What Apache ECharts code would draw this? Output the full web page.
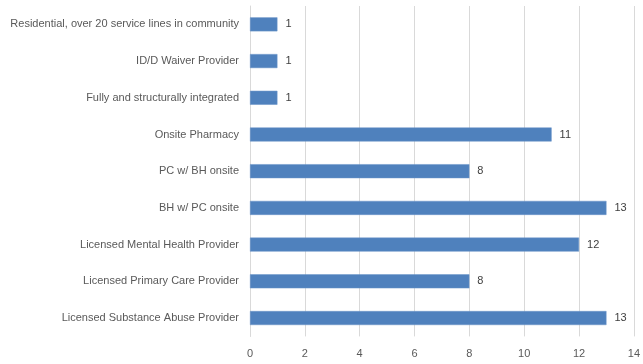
<!DOCTYPE html>
<html><head><meta charset="utf-8">
<script src="https://cdn.jsdelivr.net/npm/echarts@6/dist/echarts.min.js"></script>
<style>html,body{margin:0;padding:0;background:#fff}#c{width:643px;height:364px}</style>
</head><body><div id="c"></div>
<script>
const categories = [
  "Licensed Substance Abuse Provider",
  "Licensed Primary Care Provider",
  "Licensed Mental Health Provider",
  "BH w/ PC onsite",
  "PC w/ BH onsite",
  "Onsite Pharmacy",
  "Fully and structurally integrated",
  "ID/D Waiver Provider",
  "Residential, over 20 service lines in community"
];
const values = [13, 8, 12, 13, 8, 11, 1, 1, 1];
const xTicks = [0, 2, 4, 6, 8, 10, 12, 14];

const chart = echarts.init(document.getElementById('c'));
const font = 'Liberation Sans';
chart.setOption({
  animation: false,
  grid: {left: 250, right: 5.5, top: 6, bottom: 27.6, containLabel: false},
  xAxis: {
    type: 'value', min: xTicks[0], max: xTicks[xTicks.length-1], interval: 2,
    axisLine: {show: false}, axisTick: {show: false},
    splitLine: {lineStyle: {color: '#d9d9d9', width: 1}},
    axisLabel: {color: '#595959', fontFamily: font, fontSize: 11, margin: 12}
  },
  yAxis: {
    type: 'category', data: categories,
    axisLine: {show: true, lineStyle: {color: '#d9d9d9'}}, axisTick: {show: false},
    axisLabel: {color: '#595959', fontFamily: font, fontSize: 11, margin: 11}
  },
  series: [{
    type: 'bar', data: values, barWidth: 14,
    itemStyle: {color: '#4f81bd', borderColor: '#6a94c8', borderWidth: 0.5},
    label: {show: true, position: 'right', distance: 8, color: '#404040', fontFamily: font, fontSize: 11}
  }]
});
</script></body></html>
